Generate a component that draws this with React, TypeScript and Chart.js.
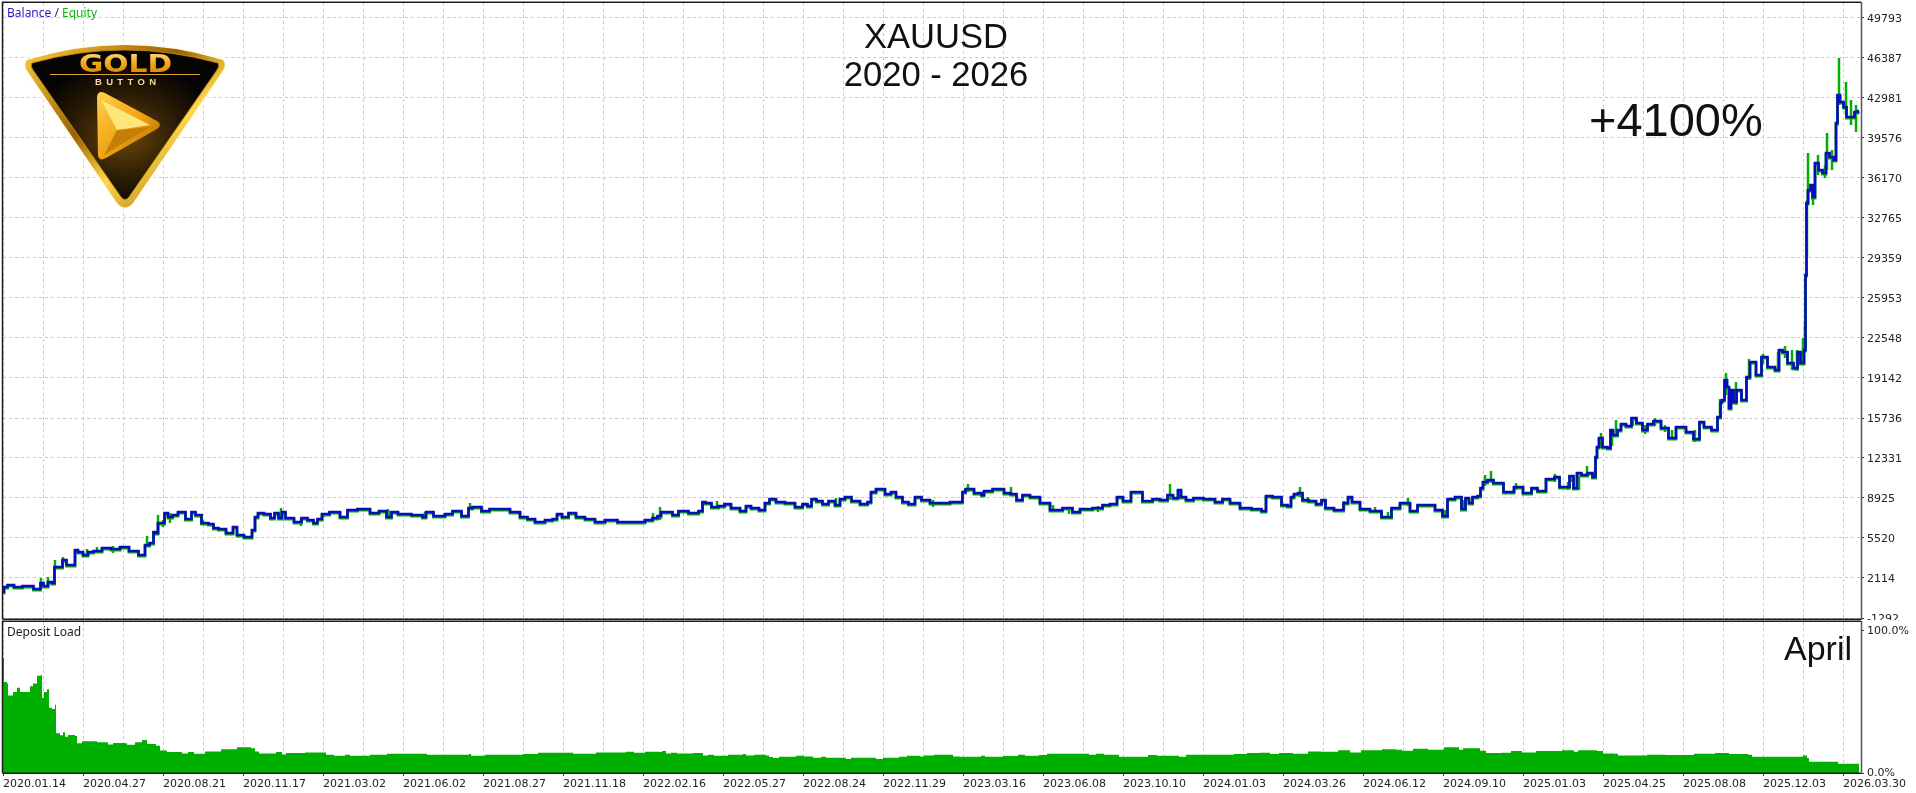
import React, { useEffect, useRef } from "react";
import { Chart, registerables } from "chart.js";

Chart.register(...registerables);

const dateLabels = ["2020.01.14","2020.04.27","2020.08.21","2020.11.17","2021.03.02","2021.06.02","2021.08.27","2021.11.18","2022.02.16","2022.05.27","2022.08.24","2022.11.29","2023.03.16","2023.06.08","2023.10.10","2024.01.03","2024.03.26","2024.06.12","2024.09.10","2025.01.03","2025.04.25","2025.08.08","2025.12.03","2026.03.30"];
const balanceTicks = [49793,46387,42981,39576,36170,32765,29359,25953,22548,19142,15736,12331,8925,5520,2114,-1292];
const loadTicks = [0,100];

const balanceStep = [3,5,10,18,27,40,41,46,50,54,55,62,63,70,74,76,80,86,90,97,107,115,125,133,144,146,153,154,157,159,163,166,170,175,181,190,193,198,205,212,215,222,230,236,238,250,254,256,260,268,273,276,281,283,288,300,303,312,315,320,324,335,345,350,365,375,383,390,393,403,420,425,427,440,450,455,468,469,476,487,492,505,515,525,530,540,550,555,559,565,572,580,590,600,610,625,640,650,655,660,662,670,675,682,695,702,703,708,715,722,727,735,745,747,755,763,767,772,780,790,800,805,810,813,820,825,832,838,842,848,855,865,870,872,880,890,892,900,905,912,918,925,935,945,955,962,963,968,980,983,985,1000,1008,1013,1020,1025,1035,1045,1055,1070,1075,1085,1100,1105,1115,1119,1127,1135,1150,1155,1165,1170,1176,1180,1182,1190,1197,1210,1220,1225,1235,1245,1258,1265,1267,1278,1285,1290,1292,1296,1300,1305,1312,1320,1323,1328,1340,1347,1349,1355,1365,1375,1388,1395,1405,1415,1420,1430,1440,1445,1450,1460,1463,1468,1470,1475,1480,1481,1485,1490,1497,1510,1518,1528,1535,1540,1552,1557,1562,1568,1571,1576,1578,1585,1590,1595,1596,1598,1600,1605,1610,1611,1615,1620,1622,1630,1633,1640,1645,1650,1657,1665,1672,1680,1692,1695,1699,1700,1708,1715,1720,1721,1723,1726,1728,1730,1732,1735,1738,1745,1748,1752,1760,1763,1772,1778,1780,1785,1790,1797,1798,1803,1805,1806,1807,1809,1812,1813,1817,1820,1825,1827,1832,1835,1837,1838,1842,1845,1848,1852,1857,1859];
const balanceValues = [923,1348,1518,1348,1433,1178,1689,1433,1774,1689,3050,3050,3646,3221,3221,4498,4327,4072,4327,4412,4668,4583,4753,4412,4072,4924,5094,6030,5945,6796,6796,7648,7307,7477,7733,7137,7733,7477,6796,6711,6370,6285,5945,6455,5774,5604,6200,7307,7648,7563,7222,7648,7222,7733,7222,6881,7222,7052,6796,7137,7563,7733,7307,7903,7988,7648,7818,7307,7733,7563,7477,7307,7733,7392,7563,7818,7392,8074,8159,7818,7988,7988,7733,7307,7137,6881,7052,7137,7563,7307,7648,7307,7137,6881,7052,6881,6881,7052,7222,7392,7733,7733,7477,7818,7648,7818,8585,8500,8159,8244,8414,8074,7818,8244,8074,7903,8500,8840,8585,8500,8159,8414,8244,8840,8670,8414,8670,8329,8840,9010,8670,8414,8585,9436,9691,9266,9436,9010,8585,8414,9010,8755,8500,8500,8585,8585,9436,9691,9351,9181,9521,9691,9351,9266,8755,9181,9010,8500,7903,8074,7733,7988,8074,8329,8414,9010,8670,9436,8670,8840,8755,9181,8925,9606,9010,8755,8925,8840,8585,8840,8500,8074,7988,7818,9095,9010,8329,8244,9010,9266,9351,8755,8670,8414,8755,8074,7903,8500,9010,8585,7988,7818,7307,8074,8500,7818,8329,8329,7903,7392,8840,9010,7988,8925,8500,9010,9095,9776,10287,10458,10202,9436,9862,9351,9776,9521,10543,10713,9862,9862,10798,9776,11053,10883,11053,10713,12415,13267,14033,13267,13182,14715,14289,14715,15226,15056,15737,15311,14715,15226,15481,14885,14033,14970,14544,13948,13948,15396,14970,14715,15822,17098,17268,18971,18375,16587,18120,17098,18120,17268,19226,20503,19396,20928,20077,19822,21525,21355,20418,19992,21355,20418,21525,27911,34041,35148,35574,34552,37446,36850,36595,38297,37957,37702,40852,43236,42640,42214,41363,41363,41789,41874];

const equitySpikeStep = [41,48,55,63,87,97,113,147,158,163,170,203,275,281,301,323,388,390,425,470,653,660,717,836,933,968,1011,1053,1069,1098,1170,1300,1308,1344,1375,1388,1408,1445,1463,1485,1491,1516,1555,1568,1572,1579,1587,1595,1601,1612,1616,1633,1645,1655,1665,1672,1695,1720,1726,1730,1736,1749,1763,1778,1785,1792,1797,1803,1805,1807,1808,1813,1818,1825,1827,1832,1839,1846,1851,1856];
const equitySpikeHigh = [2114,2199,3646,3902,4583,4753,4838,5689,7477,7052,7648,7052,7733,8074,7222,7648,7988,7818,7733,8500,7648,8159,8670,8925,8755,10117,9862,8329,8074,8244,10117,9862,9010,8670,8159,7733,8925,7903,8755,10883,11224,10202,10968,10287,10883,10798,11649,11309,14458,14715,15566,15822,15141,15737,15141,14715,14715,17353,19567,17694,18801,20758,21185,21355,21866,21525,21525,22547,23824,34296,38297,35574,38127,37276,39997,38553,46387,44343,42810,42385];
const equitySpikeLow = [1689,1433,2795,3221,3987,4242,4242,4838,5774,6455,6796,6626,7222,7137,6540,7222,7222,7137,7137,7903,6881,7052,7988,8159,8159,9436,9181,7733,7563,7733,8755,9010,8500,7903,7648,7222,8244,7222,7903,9947,10202,9606,10287,9606,10287,9606,10713,10628,13182,13352,14119,15056,14374,15056,14544,13863,13693,15737,17694,16417,16843,18971,20333,19822,20844,19822,19737,20248,21525,29359,33871,33871,36425,36169,36850,36850,42385,41534,40682,40086];

const loadStep = [3,4,7,8,13,17,20,27,30,33,37,41,42,44,47,49,52,55,56,60,63,65,68,75,77,82,97,108,113,125,127,135,142,147,156,160,167,182,188,194,205,221,232,237,251,255,259,276,282,286,305,316,326,334,345,350,368,370,387,425,427,469,471,483,485,506,523,538,573,596,626,634,645,660,662,666,671,677,693,698,703,708,714,728,743,746,754,766,769,773,779,796,804,813,821,826,846,851,876,883,899,907,920,924,934,953,960,981,985,1003,1018,1025,1039,1047,1066,1089,1096,1104,1117,1119,1136,1148,1157,1179,1186,1234,1247,1260,1270,1279,1293,1308,1321,1338,1350,1361,1382,1396,1402,1413,1428,1444,1459,1463,1472,1480,1486,1501,1511,1522,1536,1562,1574,1578,1597,1603,1614,1618,1643,1647,1666,1681,1694,1715,1729,1748,1752,1779,1803,1807,1809,1836,1838,1859];
const loadValues = [81,64,63,54.5,57,60,57,57,61,63,68.5,69,53,57,59,46,45,48,28,26.5,28.7,25.6,26.8,26.1,21,22.4,21.7,20,21.2,21,19.8,21.7,23.3,20.5,19.1,15.9,14.7,13.8,14.7,13.5,15.2,16.8,16.8,18.2,17.5,15.2,13.8,14.7,13,14,14.5,14.5,12.8,12.1,12.8,12.1,12.1,12.8,13.5,13.5,12.8,13.3,12.1,12.1,12.8,12.8,13.3,14.2,13.5,14.5,14.9,14.2,14.9,14.7,15.4,13.8,14.2,13.8,14,14,12.4,12.8,12.1,12.8,13.3,12.4,12.8,12.4,11.2,10.5,11.4,12.1,11.7,10.7,11.4,10.7,9.8,10.7,9.8,10.7,11.4,12.1,11.7,12.4,12.8,11.7,11.4,12.1,11.4,11.9,12.8,12.1,12.6,13.5,13.5,12.8,13.5,12.8,12.8,11.4,11.4,12.6,12.1,11.4,12.8,13.3,14,14.2,13.3,14,13.5,15.2,14.9,16.1,14.5,16.1,16.8,16.3,15.6,17,16.3,18.2,16.3,17.5,17.5,15.6,14,14.2,15.4,14.5,15.4,16.1,14.9,16.1,15.4,13.8,13.5,12.4,12.4,12.8,12.6,12.6,13.5,14,13.3,12.8,11.4,11.4,12.4,10.5,7.9,7.9,6.5,6.5];

const FONT = "'DejaVu Sans'";
const GRID = "#c9c9c9";
const INK = "#20202c";
const STEP_MIN = 3;
const STEP_MAX = 1861;
const STEP_GRID = 40;

const frame = {
  id: "frame",
  afterDatasetsDraw(chart: any) {
    const { ctx, chartArea: a } = chart;
    ctx.save();
    ctx.strokeStyle = "#1c1c1c";
    ctx.lineWidth = 1.5;
    ctx.beginPath();
    ctx.moveTo(a.left - 0.5, a.bottom + 0.3);
    ctx.lineTo(a.left - 0.5, a.top - 0.7);
    ctx.lineTo(a.right, a.top - 0.7);
    ctx.moveTo(a.left - 0.5, a.bottom + 0.3);
    ctx.lineTo(a.right, a.bottom + 0.3);
    ctx.stroke();
    ctx.strokeStyle = "#555555";
    ctx.lineWidth = 1.5;
    ctx.beginPath();
    ctx.moveTo(a.right + 0.5, a.top - 1);
    ctx.lineTo(a.right + 0.5, a.bottom + 1);
    ctx.stroke();
    ctx.restore();
  },
};

const equityOffset = {
  id: "equityOffset",
  beforeDatasetDraw(chart: any, args: any) {
    if (args.index === 1) {
      chart.ctx.save();
      chart.ctx.translate(0, 1.2);
    }
  },
  afterDatasetDraw(chart: any, args: any) {
    if (args.index === 1) chart.ctx.restore();
  },
};

const noAutoPadding = (scale: any) => {
  scale.paddingTop = 0;
  scale.paddingBottom = 0;
  scale.paddingLeft = 0;
  scale.paddingRight = 0;
};

const xAxis = (showLabels: boolean) => ({
  type: "linear" as const,
  min: STEP_MIN,
  max: STEP_MAX,
  afterBuildTicks(scale: any) {
    const list = [];
    for (let v = STEP_MIN; v < STEP_MAX; v += STEP_GRID) list.push({ value: v });
    scale.ticks = list;
  },
  afterFit(scale: any) {
    scale.height = showLabels ? 20 : 0;
    noAutoPadding(scale);
  },
  border: { display: false, dash: [3, 3] },
  grid: {
    color: GRID,
    lineWidth: 1,
    drawTicks: showLabels,
    tickLength: 3,
    tickColor: (c: any) => (c.index % 2 === 0 ? "#333" : "rgba(0,0,0,0)"),
  },
  ticks: {
    display: showLabels,
    autoSkip: false,
    maxRotation: 0,
    minRotation: 0,
    align: "start" as const,
    padding: 2,
    color: INK,
    font: { family: FONT, size: 11 },
    callback: (_v: any, i: number) => (i % 2 === 0 ? dateLabels[i / 2] : ""),
  },
});

const yAxis = (min: number, max: number, values: number[], fmt: (v: number) => string, grid: boolean, labelShift: number) => ({
  type: "linear" as const,
  position: "right" as const,
  min,
  max,
  afterBuildTicks(scale: any) {
    scale.ticks = values.map((value) => ({ value }));
  },
  afterFit(scale: any) {
    scale.width = 55;
    noAutoPadding(scale);
  },
  border: { display: false, dash: [3, 3] },
  grid: {
    color: grid ? GRID : "rgba(0,0,0,0)",
    lineWidth: 1,
    tickLength: 3,
    tickColor: "#333",
  },
  ticks: {
    autoSkip: false,
    padding: 3,
    labelOffset: labelShift,
    color: INK,
    font: { family: FONT, size: 11 },
    callback: (v: any) => fmt(Number(v)),
  },
});

const pairs = (xs: number[], ys: number[]) => xs.map((x, i) => ({ x, y: ys[i] }));

function spikePoints() {
  const out: { x: number; y: number }[] = [];
  equitySpikeStep.forEach((x, i) => {
    out.push({ x, y: equitySpikeHigh[i] }, { x, y: equitySpikeLow[i] }, { x, y: NaN });
  });
  return out;
}

function Logo() {
  const shield = "M27 60 Q125 30 223 60 Q227 65 222 72 L133 203 Q125 212 117 203 L28 72 Q23 65 27 60 Z";
  const inner = "M32 63 Q125 37 218 63 Q220 66 217 70 L129 197 Q125 202 121 197 L33 70 Q30 66 32 63 Z";
  return (
    <svg width="250" height="230" style={{ position: "absolute", left: 0, top: 0 }}>
      <defs>
        <linearGradient id="rim" x1="0" y1="0" x2="1" y2="1">
          <stop offset="0" stopColor="#ffcf3a" />
          <stop offset="0.4" stopColor="#9a6200" />
          <stop offset="0.62" stopColor="#ffd84a" />
          <stop offset="1" stopColor="#8a5400" />
        </linearGradient>
        <radialGradient id="core" cx="0.5" cy="0.58" r="0.5">
          <stop offset="0" stopColor="#6a4608" />
          <stop offset="0.55" stopColor="#2c1d05" />
          <stop offset="1" stopColor="#060403" />
        </radialGradient>
        <linearGradient id="goldText" x1="0" y1="0" x2="0" y2="1">
          <stop offset="0" stopColor="#ffe9a0" />
          <stop offset="0.5" stopColor="#f2a818" />
          <stop offset="1" stopColor="#c87a08" />
        </linearGradient>
        <linearGradient id="play" x1="0" y1="0" x2="1" y2="1">
          <stop offset="0" stopColor="#ffd050" />
          <stop offset="0.55" stopColor="#f0a010" />
          <stop offset="1" stopColor="#9a5c00" />
        </linearGradient>
        <filter id="halo" x="-20%" y="-20%" width="140%" height="140%">
          <feGaussianBlur stdDeviation="3" />
        </filter>
      </defs>
      <path d={shield} fill="#fff6dc" stroke="#fffdf4" strokeWidth="5" filter="url(#halo)" />
      <path d={shield} fill="url(#rim)" />
      <path d={inner} fill="url(#core)" stroke="#c88a10" strokeWidth="0.8" />
      <text x="79" y="72" textLength="93" lengthAdjust="spacingAndGlyphs" fontFamily="'DejaVu Sans'" fontWeight="700" fontSize="25" fill="url(#goldText)">GOLD</text>
      <line x1="50" y1="74.5" x2="200" y2="74.5" stroke="#d9a030" strokeWidth="1" />
      <text x="95" y="85" textLength="61" fontFamily="'Liberation Sans'" fontWeight="700" fontSize="9.5" fill="#f3d9a0">BUTTON</text>
      <path d="M97 97 Q98 90 105 93 L157 121 Q163 125 157 129 L106 158 Q99 162 98 155 Z" fill="url(#play)" />
      <path d="M101 100 L150 125 L117 130 Z" fill="#ffe67a" />
      <path d="M117 130 L150 127 L104 155 Z" fill="#c47f08" />
    </svg>
  );
}

const textBase: React.CSSProperties = { position: "absolute", whiteSpace: "nowrap", color: "#111" };

export default function App() {
  const topRef = useRef<HTMLCanvasElement>(null);
  const bottomRef = useRef<HTMLCanvasElement>(null);

  useEffect(() => {
    const top = new Chart(topRef.current!, {
      type: "line",
      data: {
        datasets: [
          { label: "Balance", data: pairs(balanceStep, balanceValues), borderColor: "#0a0abe", borderWidth: 2.6, pointRadius: 0, stepped: "middle", order: 1 },
          { label: "Equity", data: pairs(balanceStep, balanceValues), borderColor: "#00b000", borderWidth: 2.8, pointRadius: 0, stepped: "middle", order: 2 },
          { label: "Equity range", data: spikePoints(), borderColor: "#00b000", borderWidth: 2.5, borderCapStyle: "butt", pointRadius: 0, tension: 0, spanGaps: false, order: 3 },
        ],
      },
      options: {
        animation: false,
        responsive: false,
        layout: { padding: { left: 3, top: 3, right: 0, bottom: 1 } },
        plugins: { legend: { display: false }, tooltip: { enabled: false } },
        scales: {
          x: xAxis(false),
          y: yAxis(-1377, 51069, balanceTicks, (v) => String(v), true, 1.5),
        },
      },
      plugins: [frame, equityOffset],
    });
    const bottom = new Chart(bottomRef.current!, {
      type: "line",
      data: {
        datasets: [
          { label: "Deposit Load", data: pairs(loadStep, loadValues), borderWidth: 0, borderColor: "#00b000", backgroundColor: "#00b000", fill: "origin", stepped: true, pointRadius: 0 },
        ],
      },
      options: {
        animation: false,
        responsive: false,
        layout: { padding: { left: 3, top: 2, right: 0, bottom: 0 } },
        plugins: { legend: { display: false }, tooltip: { enabled: false } },
        scales: {
          x: xAxis(true),
          y: yAxis(0, 106.3, loadTicks, (v) => v.toFixed(1) + "%", false, 0),
        },
      },
      plugins: [frame],
    });
    return () => {
      top.destroy();
      bottom.destroy();
    };
  }, []);

  return (
    <div style={{ position: "absolute", left: 0, top: 0, width: 1916, height: 793, background: "#fff", overflow: "hidden" }}>
      <canvas ref={topRef} width={1916} height={620} style={{ position: "absolute", left: 0, top: 0 }} />
      <canvas ref={bottomRef} width={1916} height={173} style={{ position: "absolute", left: 0, top: 620 }} />
      <Logo />
      <div style={{ ...textBase, left: 7, top: 5, font: "12px 'Noto Sans'", lineHeight: "16px" }}>
        <span style={{ color: "#2a1ac8" }}>Balance</span>
        <span style={{ color: "#333" }}> / </span>
        <span style={{ color: "#10b810" }}>Equity</span>
      </div>
      <div style={{ ...textBase, left: 7, top: 624, font: "12px 'Noto Sans'", lineHeight: "16px", color: INK }}>Deposit Load</div>
      <div style={{ ...textBase, left: 636, width: 600, top: 16, textAlign: "center", font: "34.6px 'Liberation Sans'", lineHeight: "40px" }}>XAUUSD</div>
      <div style={{ ...textBase, left: 636, width: 600, top: 54, textAlign: "center", font: "34.6px 'Liberation Sans'", lineHeight: "40px" }}>2020 - 2026</div>
      <div style={{ ...textBase, left: 1589, top: 92, font: "47px 'Liberation Sans'", lineHeight: "56px" }}>+4100%</div>
      <div style={{ ...textBase, left: 1784, top: 628, font: "34px 'Liberation Sans'", lineHeight: "40px" }}>April</div>
    </div>
  );
}
